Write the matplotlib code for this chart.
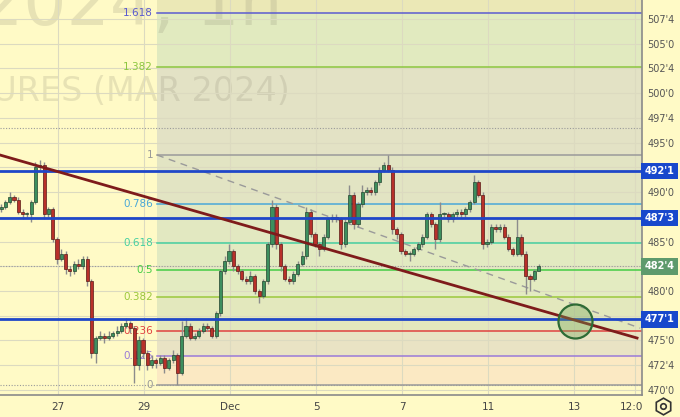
import matplotlib.pyplot as plt
from matplotlib.lines import Line2D
from matplotlib.transforms import Bbox, TransformedBbox

# hourly-ish candles, prices in cents (wheat futures)
first_open = 488.25
closes = [488.5, 489.0, 489.5, 489.25, 488.0, 487.75, 487.75, 489.0, 492.5, 492.75,
          487.75, 488.25, 485.25, 483.25, 483.75, 482.25, 482.0, 482.75, 482.5, 483.25,
          481.0, 473.75, 475.25, 475.5, 475.25, 475.5, 475.75, 476.0, 476.5, 476.75,
          476.25, 472.5, 475.0, 473.75, 472.5, 473.0, 472.75, 473.25, 472.25, 473.0,
          473.5, 471.75, 475.5, 476.5, 475.25, 475.5, 476.0, 476.5, 476.25, 475.5,
          477.75, 482.0, 483.0, 484.0, 482.5, 482.0, 481.25, 481.0, 481.5, 480.0,
          479.5, 481.0, 484.75, 488.5, 484.75, 482.5, 481.25, 481.0, 481.75, 482.75,
          483.5, 488.0, 485.75, 484.75, 484.25, 485.5, 487.25, 487.5, 487.25, 484.75,
          487.0, 489.75, 486.75, 488.75, 490.0, 490.25, 490.0, 491.0, 492.25, 492.75,
          492.25, 486.25, 485.75, 484.0, 483.75, 483.75, 484.25, 484.75, 485.5, 487.75,
          486.75, 485.25, 487.75, 487.75, 487.25, 487.75, 488.0, 487.75, 488.25, 489.0,
          491.0, 489.75, 484.75, 485.0, 486.5, 486.25, 486.5, 485.5, 484.25, 483.75,
          485.5, 483.75, 481.5, 481.25, 482.0, 482.5]
highs = [488.75, 489.25, 490.0, 489.75, 489.5, 488.25, 488.0, 489.25, 493.0, 493.25,
         493.0, 488.5, 488.5, 485.5, 484.25, 484.0, 482.5, 483.0, 483.25, 483.5,
         483.5, 481.25, 475.5, 476.0, 475.75, 476.0, 476.0, 476.5, 476.75, 477.25,
         477.0, 476.5, 475.5, 475.25, 474.0, 473.5, 473.25, 473.5, 473.5, 473.25,
         474.0, 473.75, 477.0, 477.25, 476.75, 475.75, 476.25, 476.75, 476.75, 476.5,
         478.0, 482.25, 483.5, 484.75, 484.25, 482.75, 482.25, 481.5, 482.0, 481.75,
         480.25, 481.25, 485.0, 489.25, 488.75, 485.0, 482.75, 481.5, 482.0, 483.0,
         484.0, 488.5, 488.25, 486.0, 485.0, 485.75, 487.5, 487.75, 487.75, 487.5,
         487.25, 490.75, 490.0, 489.0, 490.75, 490.5, 490.5, 491.25, 492.5, 493.0,
         493.75, 492.5, 486.5, 486.0, 484.25, 484.0, 484.5, 485.0, 485.75, 488.0,
         488.0, 487.0, 489.0, 488.0, 488.0, 488.0, 488.25, 488.25, 488.5, 489.25,
         491.75, 491.25, 490.0, 485.25, 486.75, 486.75, 486.75, 486.75, 485.75, 484.5,
         487.25, 485.75, 484.0, 481.75, 482.25, 482.75]
lows = [488.0, 488.25, 488.75, 489.0, 487.75, 487.25, 487.5, 487.0, 488.75, 492.25,
        487.25, 487.5, 485.0, 482.75, 483.0, 481.75, 481.5, 481.75, 482.25, 482.25,
        480.5, 473.25, 472.75, 475.0, 474.75, 475.0, 475.25, 475.5, 475.75, 476.25,
        475.75, 470.75, 472.0, 473.25, 472.0, 472.25, 472.25, 472.5, 471.75, 472.0,
        472.75, 470.5, 471.5, 475.25, 475.0, 475.0, 475.25, 475.75, 476.0, 475.25,
        475.25, 477.5, 481.75, 482.75, 482.0, 481.75, 481.0, 480.75, 480.75, 479.75,
        478.75, 479.25, 480.75, 484.5, 484.25, 482.0, 481.0, 480.75, 480.75, 481.5,
        482.5, 483.25, 485.5, 484.5, 483.5, 484.0, 485.25, 487.0, 487.0, 484.25,
        484.5, 486.75, 486.25, 486.5, 488.5, 489.75, 489.75, 489.75, 490.75, 492.0,
        492.0, 485.75, 485.25, 483.75, 483.5, 483.0, 483.5, 484.0, 484.5, 485.25,
        486.5, 484.25, 485.0, 487.5, 487.0, 487.0, 487.5, 487.5, 487.5, 488.0,
        488.75, 489.5, 484.25, 484.5, 484.75, 486.0, 486.0, 485.25, 484.0, 483.5,
        483.5, 483.5, 479.75, 480.0, 481.0, 482.25]
opens = [first_open] + closes[:-1]

date_pos = [13.24, 33.24, 53.24, 73.24, 93.24, 113.24, 133.24, 147.4]
date_labels = ['27', '29', 'Dec', '5', '7', '11', '13', '12:00']

fib_low, fib_high = 470.5, 493.75
fib_ratios = [1.618, 1.382, 1.0, 0.786, 0.618, 0.5, 0.382, 0.236, 0.125, 0.0]
fib_labels = ['1.618', '1.382', '1', '0.786', '0.618', '0.5', '0.382', '0.236', '0.125', '0']
fib_colors = ['#5b5bd0', '#8cc63f', '#9a9a9a', '#4aa8d8', '#45cfa0', '#44cc44',
              '#9cc83c', '#e04040', '#9a7ad8', '#9a9a9a']
fib_fills = ['#e1eabf', '#e3e2c5', '#e2e4c3', '#e2e8c1', '#e2eac1', '#e3ebc1',
             '#e3e8bd', '#e9e3c4', '#fbe9c3']
fib_top_fill = '#ebe8b6'

levels = [492.125, 487.375, 477.125]
level_tags = ["492'1", "487'3", "477'1"]
last_price = 482.5
watch_lines = [496.5, 470.5]
hidden_ticks = [477.5, 482.5, 487.5, 492.5]

trend_x = [-0.25, 147.9]
trend_y = [493.75, 475.25]
fib_trend_x = [36.26, 148.6]
fib_trend_y = [493.75, 476.25]
target_x, target_y = 133.47, 476.97

BG = '#fffac6'
fig = plt.figure(figsize=(6.8, 4.17), dpi=100)
fig.patch.set_facecolor(BG)
ax = fig.add_axes([0, 22 / 417, 642 / 680, 395 / 417])
ax.set_facecolor(BG)
ax.set_xlim(-0.25, 149.05)
ax.set_ylim(469.49, 509.42)

yt = [470 + 2.5 * k for k in range(16)]
ax.set_yticks(yt)
ax.set_yticklabels(['' if v in hidden_ticks else "%d'%d" % (int(v), round((v - int(v)) * 8))
                    for v in yt])
ax.yaxis.tick_right()
ax.set_xticks(date_pos)
ax.set_xticklabels(date_labels)
ax.tick_params(axis='y', length=0, pad=4, labelsize=7, labelcolor='#555555')
ax.tick_params(axis='x', length=0, pad=5, labelsize=7.5, labelcolor='#444444')
ax.grid(True, color='#dcdac0', lw=0.8, zorder=0.6)
ax.set_axisbelow(True)
for s in ['top', 'left']:
    ax.spines[s].set_visible(False)
for s in ['right', 'bottom']:
    ax.spines[s].set_color('#8a8a8a')
    ax.spines[s].set_linewidth(1.2)

# clip the last date label at the price scale
lab = ax.get_xticklabels()[-1]
lab.set_clip_box(TransformedBbox(Bbox([[0, 0], [642 / 680, 1]]), fig.transFigure))
lab.set_clip_on(True)

# watermark
wm = dict(transform=ax.transAxes, color='#8a8670', alpha=0.2, clip_on=True, zorder=0.3)
ax.text(-20 / 642, 1 - 25 / 395, '2024, 1h', fontsize=49, va='baseline', ha='left', **wm)
ax.text(290 / 642, 1 - 101 / 395, 'WHEAT FUTURES (MAR 2024)', fontsize=24,
        va='baseline', ha='right', **wm)

# fib retracement
fx0 = 157 / 642
lv = [fib_low + r * (fib_high - fib_low) for r in fib_ratios]
ax.axhspan(lv[0], 509.42, xmin=fx0, xmax=1, color=fib_top_fill, lw=0, zorder=0.2)
for i in range(len(lv) - 1):
    ax.axhspan(lv[i + 1], lv[i], xmin=fx0, xmax=1, color=fib_fills[i], lw=0, zorder=0.2)
for i, v in enumerate(lv):
    ax.axhline(v, xmin=fx0, xmax=1, color=fib_colors[i], lw=1.1, zorder=1)
    ax.text(35.35, v, fib_labels[i], color=fib_colors[i], fontsize=7.5,
            ha='right', va='center', zorder=1)
ax.plot(fib_trend_x, fib_trend_y, color='#9a9a9a', lw=1, ls=(0, (5, 4)), zorder=1.2)

for v in watch_lines:
    ax.axhline(v, color='#9a9a9a', lw=0.8, ls=(0, (1, 1.5)), zorder=1.1)
ax.axhline(last_price, color='#9a9a9a', lw=0.8, ls=(0, (1, 1.5)), zorder=1.1)

# candles
x = list(range(len(closes)))
ax.vlines(x, lows, highs, color='#8c8c8c', lw=1, zorder=2)
for i in x:
    o, c = opens[i], closes[i]
    up = c >= o
    h = max(abs(c - o), 0.12)
    ax.bar(i, h, bottom=min(o, c), width=0.72, color='#3d8f5e' if up else '#b8302a',
           edgecolor='#24452f' if up else '#5a1a16', lw=0.5, zorder=3)

for v in levels:
    ax.axhline(v, color='#1f47c8', lw=2, zorder=4)
ax.plot(trend_x, trend_y, color='#7e1b1b', lw=2, zorder=4.5)
ax.plot([target_x], [target_y], marker='o', ms=24.5, mfc=(0.45, 0.65, 0.35, 0.35),
        mec='#2e6b35', mew=1.6, zorder=5)

# price tags
for v, t in zip(levels, level_tags):
    ax.text(1.004, v, t, transform=ax.get_yaxis_transform(), color='white', fontsize=7,
            fontweight='bold', ha='left', va='center', clip_on=False, zorder=6,
            bbox=dict(boxstyle='square,pad=0.35', fc='#1848cc', ec='none'))
ax.text(1.004, last_price, "482'4", transform=ax.get_yaxis_transform(), color='white',
        fontsize=7, fontweight='bold', ha='left', va='center', clip_on=False, zorder=6,
        bbox=dict(boxstyle='square,pad=0.35', fc='#5e9a6c', ec='none'))

# settings icon
fig.add_artist(Line2D([663 / 680], [1 - 406 / 417], marker='h', ms=12, mfc='none',
                      mec='#333333', mew=1.2, transform=fig.transFigure))
fig.add_artist(Line2D([663 / 680], [1 - 406 / 417], marker='o', ms=4, mfc='none',
                      mec='#333333', mew=1.2, transform=fig.transFigure))

fig.savefig('out.png', dpi=100, facecolor=BG)
